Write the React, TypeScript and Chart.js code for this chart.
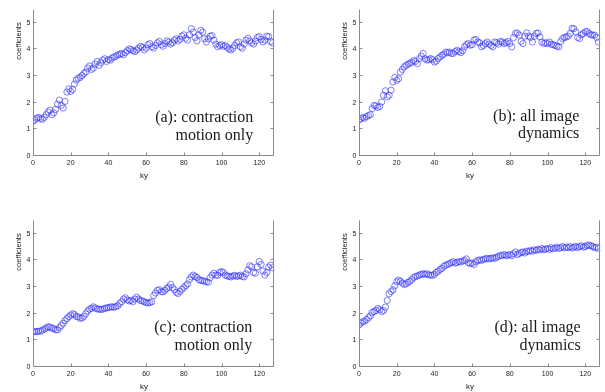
import React, { useEffect, useRef } from 'react';
import { Chart, registerables } from 'chart.js';

Chart.register(...registerables);

// ---- data ----
const xTickValues = [0, 20, 40, 60, 80, 100, 120];
const yTickValues = [0, 1, 2, 3, 4, 5];
const xLabel = 'ky';
const yLabel = 'coefficients';

const seriesA = [
  1.30, 1.36, 1.42, 1.45, 1.40, 1.38, 1.45, 1.55, 1.65, 1.72,
  1.55, 1.62, 1.75, 1.95, 2.10, 1.90, 1.80, 2.05, 2.40, 2.52,
  2.42, 2.50, 2.70, 2.85, 2.92, 2.95, 3.02, 3.10, 3.15, 3.30,
  3.38, 3.25, 3.30, 3.45, 3.55, 3.40, 3.50, 3.60, 3.65, 3.55,
  3.62, 3.60, 3.68, 3.72, 3.75, 3.80, 3.82, 3.85, 3.80, 3.88,
  3.95, 4.02, 4.00, 3.95, 3.92, 3.98, 4.05, 4.12, 4.08, 3.98,
  4.05, 4.18, 4.22, 4.10, 4.05, 4.15, 4.25, 4.30, 4.18, 4.12,
  4.22, 4.32, 4.28, 4.20, 4.25, 4.35, 4.40, 4.32, 4.38, 4.50,
  4.55, 4.42, 4.35, 4.55, 4.78, 4.65, 4.45, 4.32, 4.55, 4.72,
  4.65, 4.40, 4.28, 4.40, 4.50, 4.52, 4.35, 4.20, 4.10, 4.15,
  4.18, 4.12, 4.15, 4.08, 4.02, 3.98, 4.05, 4.15, 4.25, 4.28,
  4.10, 4.05, 4.20, 4.35, 4.42, 4.32, 4.25, 4.20, 4.32, 4.45,
  4.48, 4.38, 4.28, 4.35, 4.50, 4.48, 4.30, 4.25,
];

const seriesB = [
  1.35, 1.40, 1.45, 1.42, 1.48, 1.52, 1.55, 1.78, 1.90, 1.88,
  1.82, 1.86, 2.03, 2.28, 2.45, 2.22, 2.28, 2.47, 2.78, 2.95,
  2.84, 2.90, 3.15, 3.25, 3.35, 3.40, 3.45, 3.48, 3.52, 3.58,
  3.55, 3.47, 3.65, 3.75, 3.85, 3.65, 3.60, 3.62, 3.66, 3.62,
  3.53, 3.56, 3.66, 3.72, 3.78, 3.82, 3.90, 3.88, 3.90, 3.85,
  3.85, 3.92, 3.97, 3.92, 3.88, 3.95, 4.10, 4.18, 4.22, 4.16,
  4.18, 4.35, 4.38, 4.28, 4.25, 4.10, 4.15, 4.22, 4.28, 4.20,
  4.15, 4.10, 4.28, 4.25, 4.20, 4.30, 4.28, 4.22, 4.25, 4.30,
  4.22, 4.10, 4.45, 4.60, 4.62, 4.54, 4.30, 4.22, 4.50, 4.62,
  4.50, 4.45, 4.28, 4.50, 4.60, 4.62, 4.47, 4.28, 4.22, 4.25,
  4.22, 4.28, 4.20, 4.18, 4.15, 4.12, 4.10, 4.30, 4.41, 4.45,
  4.47, 4.50, 4.60, 4.79, 4.78, 4.66, 4.45, 4.41, 4.55, 4.60,
  4.66, 4.68, 4.60, 4.55, 4.54, 4.54, 4.45, 4.28,
];

const seriesC = [
  1.32, 1.33, 1.33, 1.34, 1.35, 1.38, 1.42, 1.46, 1.51, 1.50,
  1.46, 1.44, 1.40, 1.39, 1.48, 1.56, 1.64, 1.74, 1.82, 1.89,
  1.95, 2.00, 1.97, 1.90, 1.88, 1.83, 1.84, 1.90, 2.00, 2.10,
  2.17, 2.20, 2.26, 2.22, 2.18, 2.17, 2.16, 2.17, 2.20, 2.22,
  2.23, 2.25, 2.26, 2.24, 2.27, 2.30, 2.38, 2.45, 2.55, 2.60,
  2.52, 2.48, 2.50, 2.45, 2.55, 2.62, 2.55, 2.50, 2.48, 2.45,
  2.42, 2.40, 2.42, 2.45, 2.68, 2.78, 2.88, 2.90, 2.83, 2.82,
  2.88, 2.95, 3.00, 3.10, 2.98, 2.90, 2.80, 2.76, 2.84, 2.92,
  2.98, 3.05, 3.12, 3.28, 3.38, 3.45, 3.40, 3.36, 3.28, 3.25,
  3.24, 3.22, 3.20, 3.18, 3.35, 3.45, 3.52, 3.45, 3.44, 3.55,
  3.58, 3.55, 3.45, 3.42, 3.40, 3.38, 3.42, 3.44, 3.40, 3.42,
  3.45, 3.40, 3.38, 3.50, 3.65, 3.80, 3.76, 3.55, 3.52, 3.76,
  3.96, 3.85, 3.60, 3.45, 3.55, 3.75, 3.83, 3.72,
];

const seriesD = [
  1.58, 1.65, 1.70, 1.72, 1.78, 1.85, 1.92, 2.05, 2.08, 2.12,
  2.20, 2.15, 2.08, 2.12, 2.25, 2.50, 2.75, 2.83, 2.90, 3.05,
  3.20, 3.26, 3.22, 3.15, 3.10, 3.12, 3.18, 3.22, 3.28, 3.36,
  3.40, 3.42, 3.45, 3.48, 3.50, 3.48, 3.50, 3.46, 3.45, 3.44,
  3.48, 3.55, 3.60, 3.66, 3.70, 3.78, 3.82, 3.85, 3.88, 3.92,
  3.95, 3.90, 3.92, 3.96, 3.94, 3.98, 4.00, 4.06, 3.92, 3.88,
  3.90, 3.85, 3.95, 4.00, 4.02, 4.00, 4.04, 4.06, 4.08, 4.06,
  4.08, 4.10, 4.08, 4.12, 4.15, 4.20, 4.18, 4.22, 4.18, 4.20,
  4.22, 4.18, 4.25, 4.32, 4.22, 4.26, 4.30, 4.32, 4.28, 4.35,
  4.34, 4.38, 4.35, 4.40, 4.38, 4.42, 4.40, 4.45, 4.40, 4.43,
  4.45, 4.42, 4.48, 4.44, 4.46, 4.50, 4.45, 4.48, 4.52, 4.47,
  4.50, 4.48, 4.52, 4.47, 4.50, 4.53, 4.48, 4.52, 4.55, 4.50,
  4.52, 4.56, 4.58, 4.55, 4.52, 4.48, 4.50, 4.45,
];

const captionA = ['(a): contraction', 'motion only'];
const captionB = ['(b): all image', 'dynamics'];
const captionC = ['(c): contraction', 'motion only'];
const captionD = ['(d): all image', 'dynamics'];

// ---- layout / style ----
const CW = 279;
const CH = 181;
const AXIS_COLOR = '#8a8a8a';
const TEXT_COLOR = '#222';
const MARKER_COLOR = 'rgba(40,40,255,0.85)';
const SANS = '"Liberation Sans", Arial, sans-serif';
const SERIF = '"Liberation Serif", "Times New Roman", serif';

type PanelProps = {
  values: number[];
  caption: string[];
  left: number;
  top: number;
  capX: number;
  capY: number;
};

function Panel({ values, caption, left, top, capX, capY }: PanelProps) {
  const ref = useRef<HTMLCanvasElement | null>(null);

  useEffect(() => {
    if (!ref.current) return;
    const pts = values.map((v, i) => ({ x: i, y: v }));

    const decor = {
      id: 'decor',
      afterDraw(chart: any) {
        const ctx = chart.ctx;
        const a = chart.chartArea;
        const xs = chart.scales.x;
        const ys = chart.scales.y;
        const L = Math.round(a.left) + 0.5;
        const R = Math.round(a.right) - 0.5;
        const B = Math.round(a.bottom) - 0.5;
        const T = a.top;
        ctx.save();
        ctx.strokeStyle = AXIS_COLOR;
        ctx.lineWidth = 1;
        ctx.beginPath();
        ctx.moveTo(L, T);
        ctx.lineTo(L, B);
        ctx.lineTo(R, B);
        ctx.moveTo(R, B);
        ctx.lineTo(R, T);
        xTickValues.forEach((v) => {
          const px = Math.round(xs.getPixelForValue(v)) + 0.5;
          ctx.moveTo(px, B);
          ctx.lineTo(px, B - 3);
        });
        yTickValues.forEach((v) => {
          const py = Math.round(ys.getPixelForValue(v)) - 0.5;
          ctx.moveTo(L, py);
          ctx.lineTo(L + 3, py);
          ctx.moveTo(R, py);
          ctx.lineTo(R - 3, py);
        });
        ctx.stroke();

        ctx.fillStyle = TEXT_COLOR;
        // y label
        ctx.save();
        ctx.translate(19, 41);
        ctx.rotate(-Math.PI / 2);
        ctx.font = '7.5px ' + SANS;
        ctx.textAlign = 'center';
        ctx.textBaseline = 'middle';
        ctx.fillText(yLabel, 0, 0);
        ctx.restore();
        // x label
        ctx.font = '8px ' + SANS;
        ctx.textAlign = 'center';
        ctx.textBaseline = 'middle';
        ctx.fillText(xLabel, 144, 175.5);
        // caption
        ctx.font = '16px ' + SERIF;
        ctx.textAlign = 'right';
        ctx.textBaseline = 'alphabetic';
        ctx.fillStyle = '#1a1a1a';
        caption.forEach((line, i) => {
          ctx.fillText(line, capX, capY + i * 17.8);
        });
        ctx.restore();
      },
    };

    const chart = new Chart(ref.current, {
      type: 'scatter',
      data: {
        datasets: [
          {
            data: pts,
            pointStyle: 'circle',
            pointRadius: 3.1,
            pointBorderWidth: 0.7,
            pointBorderColor: MARKER_COLOR,
            pointBackgroundColor: 'rgba(0,0,0,0)',
            showLine: false,
          },
        ],
      },
      options: {
        animation: false,
        responsive: false,
        devicePixelRatio: 1,
        layout: { padding: { top: 9.5, right: 4, left: 0, bottom: 0 } },
        plugins: {
          legend: { display: false },
          tooltip: { enabled: false },
          title: { display: false },
        },
        scales: {
          x: {
            type: 'linear',
            min: 0,
            max: 128,
            grid: { display: false, drawTicks: false },
            border: { display: false },
            ticks: {
              stepSize: 20,
              includeBounds: false,
              padding: 3,
              color: TEXT_COLOR,
              font: { family: SANS, size: 7 },
              maxRotation: 0,
            },
            afterFit: (s: any) => {
              s.height = 25;
            },
          },
          y: {
            type: 'linear',
            min: 0,
            max: 5.5,
            grid: { display: false, drawTicks: false },
            border: { display: false },
            ticks: {
              stepSize: 1,
              includeBounds: false,
              padding: 2.5,
              color: TEXT_COLOR,
              font: { family: SANS, size: 7 },
            },
            afterFit: (s: any) => {
              s.width = 33;
            },
          },
        },
      },
      plugins: [decor],
    } as any);

    return () => chart.destroy();
  }, [values, caption, capX, capY]);

  return (
    <canvas
      ref={ref}
      width={CW}
      height={CH}
      style={{ position: 'absolute', left, top, width: CW, height: CH }}
    />
  );
}

export default function App() {
  return (
    <div
      style={{
        position: 'fixed',
        left: 0,
        top: 0,
        width: 605,
        height: 392,
        overflow: 'hidden',
        background: '#fff',
      }}
    >
      <Panel values={seriesA} caption={captionA} left={0} top={0} capX={253.3} capY={122} />
      <Panel values={seriesB} caption={captionB} left={326} top={0} capX={253.3} capY={120.5} />
      <Panel values={seriesC} caption={captionC} left={0} top={211} capX={252.3} capY={121} />
      <Panel values={seriesD} caption={captionD} left={326} top={211} capX={254.7} capY={121} />
    </div>
  );
}
